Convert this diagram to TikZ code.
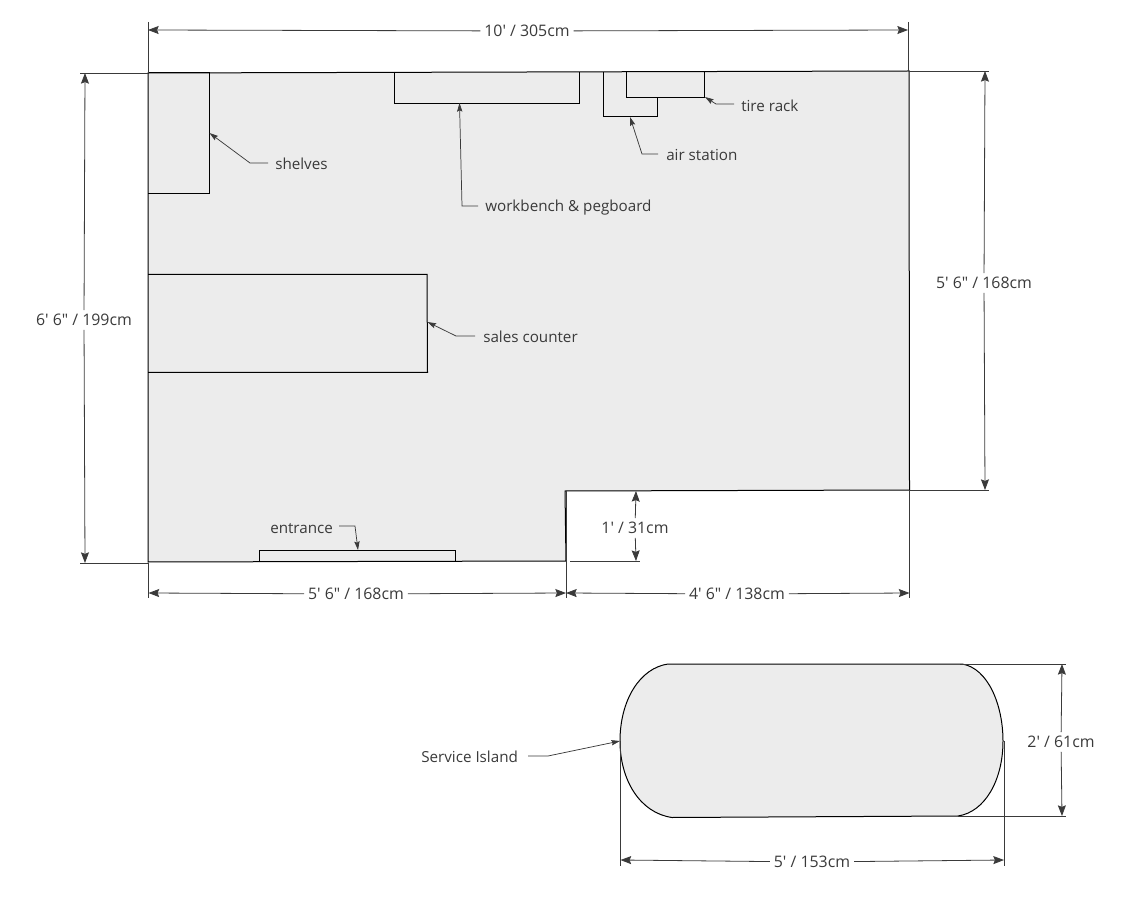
\documentclass[tikz,border=0pt]{standalone}
\usepackage{fontspec}
\newfontfamily\labfont{Open Sans}
\usetikzlibrary{arrows.meta}
\definecolor{floor}{HTML}{ECECEC}
\definecolor{ink}{HTML}{3A3A3A}
\tikzset{
  x=0.75pt,y=-0.75pt,
  wall/.style={draw=black,line width=0.75pt,line join=miter},
  zone/.style={draw=black,line width=0.75pt},
  ext/.style={draw=ink,line width=0.6pt},
  dim/.style={draw=ink,line width=0.6pt,-{Stealth[length=8pt,width=6pt,inset=1.2pt]}},
  lead/.style={draw=ink,line width=0.55pt,-{Stealth[length=6.5pt,width=4pt,inset=1pt]}},
  lab/.style={font=\labfont\fontsize{11.9pt}{13pt}\selectfont,text=ink,inner sep=0pt,outer sep=3pt,anchor=center},
  note/.style={font=\labfont\fontsize{11.4pt}{13pt}\selectfont,text=ink,inner sep=0pt,anchor=west},
}
\begin{document}
\begin{tikzpicture}
\useasboundingbox (0,0) rectangle (1135,898);
% floor
\path[wall,fill=floor] (148,73) -- (909,71) -- (909.5,490) -- (565,491) -- (566,561) -- (148,562) -- cycle;
% furniture
\draw[zone] (148,73) -- (209.5,73) -- (209.5,193.5) -- (148,193.5);
\draw[zone] (394,72) -- (394,103.5) -- (579.5,103.5) -- (579.5,72);
\draw[zone] (603,72) -- (603,116.5) -- (657,116.5) -- (657,97.5);
\draw[zone] (626.5,72) -- (626.5,97.5) -- (704.5,97.5) -- (704.5,72);
\draw[zone] (148,274.5) -- (427,274.5) -- (427.5,372.5) -- (148,372.5);
\draw[zone] (259.5,562) -- (259.5,550.5) -- (455.5,550.5) -- (455.5,562);
% service island
\path[wall,fill=floor] (668,664) -- (962,664) .. controls (988,668) and (1003,705) .. (1003,741)
  .. controls (1003,780) and (985,812) .. (958,816) -- (672,817.5)
  .. controls (640,813) and (620,780) .. (620,741) .. controls (620,700) and (640,668) .. (668,664) -- cycle;
% anchors
\coordinate (tl) at (148,30); \coordinate (tr) at (908,30);
\coordinate (ll) at (85,73); \coordinate (lb) at (85,563);
\coordinate (rt) at (985,71); \coordinate (rb) at (985,490);
\coordinate (ba) at (148.5,593); \coordinate (bb) at (566,593); \coordinate (bc) at (909.5,593);
\coordinate (st) at (636,491); \coordinate (sb) at (636,561);
\coordinate (it) at (1062,664); \coordinate (ib) at (1062,816);
\coordinate (il) at (620.5,860); \coordinate (ir) at (1004,860);
% extension lines
\draw[ext] (148.5,22) -- (148.5,73);
\draw[ext] (908.5,22) -- (908.5,71);
\draw[ext] (80,73) -- (148,73);
\draw[ext] (80,563) -- (148,563);
\draw[ext] (909,71) -- (989,71);
\draw[ext] (909,490) -- (989,490);
\draw[ext] (148.5,563) -- (148.5,598);
\draw[ext] (566,491) -- (566,598);
\draw[ext] (909.5,490) -- (909.5,598);
\draw[ext] (570,561) -- (640,561);
\draw[ext] (960,664) -- (1066,664);
\draw[ext] (958,816) -- (1066,816);
\draw[ext] (620.5,741) -- (620.5,866);
\draw[ext] (1004,741) -- (1004,866);
% dimensions
\node[lab] (d1) at (527,31) {10' / 305cm};
\draw[dim] (d1) -- (tl); \draw[dim] (d1) -- (tr);
\node[lab] (d2) at (84,320) {6' 6" / 199cm};
\draw[dim] (d2) -- (ll); \draw[dim] (d2) -- (lb);
\node[lab] (d3) at (984,283) {5' 6" / 168cm};
\draw[dim] (d3) -- (rt); \draw[dim] (d3) -- (rb);
\node[lab] (d4) at (356,594) {5' 6" / 168cm};
\draw[dim] (d4) -- (ba); \draw[dim] (d4) -- (bb);
\node[lab] (d5) at (737,594) {4' 6" / 138cm};
\draw[dim] (d5) -- (bb); \draw[dim] (d5) -- (bc);
\node[lab] (d6) at (635,528) {1' / 31cm};
\draw[dim] (d6) -- (st); \draw[dim] (d6) -- (sb);
\node[lab] (d7) at (1061,742) {2' / 61cm};
\draw[dim] (d7) -- (it); \draw[dim] (d7) -- (ib);
\node[lab] (d8) at (812,862) {5' / 153cm};
\draw[dim] (d8) -- (il); \draw[dim] (d8) -- (ir);
% notes
\node[note] (n1) at (275,163.5) {shelves};
\coordinate (t1) at (209.5,133);
\draw[lead] (268,163) -- (250,163) -- (t1);
\node[note] (n2) at (485,208) {workbench \& pegboard};
\coordinate (t2) at (459.5,103);
\draw[lead] (478,206) -- (462,206) -- (t2);
\node[note] (n3) at (666,155) {air station};
\coordinate (t3) at (630,117);
\draw[lead] (658,154) -- (642,154) -- (t3);
\node[note] (n4) at (741,105.5) {tire rack};
\coordinate (t4) at (705,97);
\draw[lead] (734,104) -- (716,104) -- (t4);
\node[note] (n5) at (483,337) {sales counter};
\coordinate (t5) at (427.5,322);
\draw[lead] (475,336) -- (456,336) -- (t5);
\node[note] (n6) at (270,529) {entrance};
\coordinate (t6) at (358,550);
\draw[lead] (339,526) -- (355,526) -- (t6);
\node[note] (n7) at (421,757) {Service Island};
\coordinate (t7) at (620,741);
\draw[lead] (528,756) -- (548,756) -- (t7);
\end{tikzpicture}
\end{document}
